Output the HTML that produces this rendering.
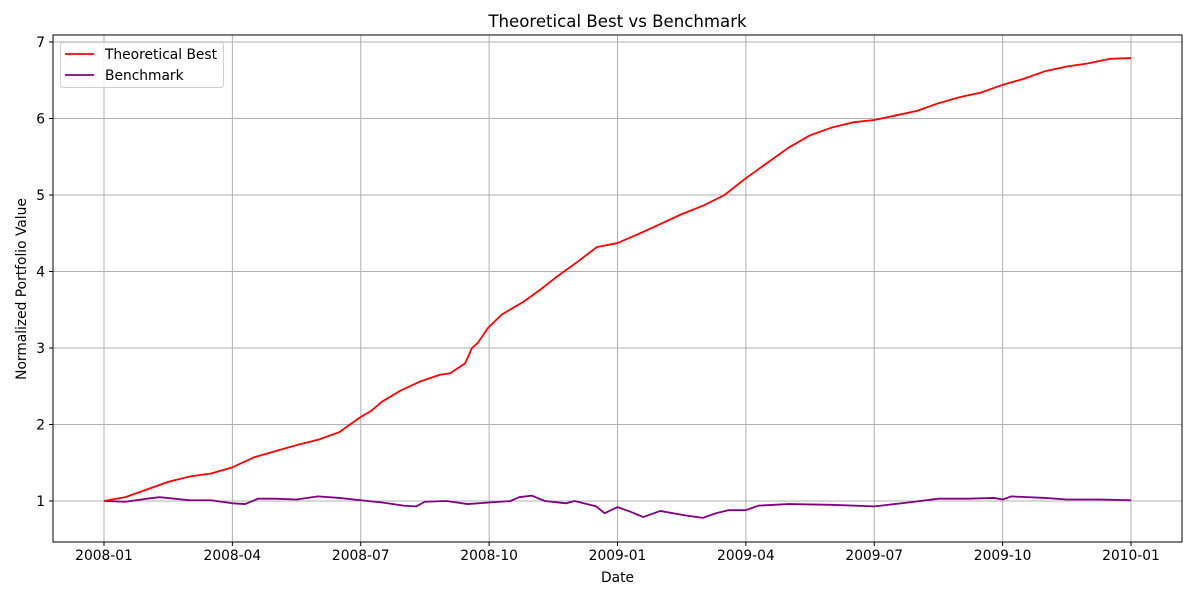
<!DOCTYPE html>
<html><head><meta charset="utf-8"><style>
body{margin:0;background:#fff;font-family:"Liberation Sans","DejaVu Sans",sans-serif;}
svg text{font-family:"DejaVu Sans","Liberation Sans",sans-serif;}
</style></head><body>
<svg id="chart" width="1200" height="600" xmlns="http://www.w3.org/2000/svg"></svg>
<script>
const xTickLabels=["2008-01","2008-04","2008-07","2008-10","2009-01","2009-04","2009-07","2009-10","2010-01"];
const xTickMonths=[0,3,6,9,12,15,18,21,24];
const yTicks=[1,2,3,4,5,6,7];
const bestMonths=[0,0.5,1,1.5,2,2.5,3,3.5,4,4.5,5,5.5,6,6.25,6.5,6.92,7.38,7.85,8.09,8.44,8.6,8.74,8.97,9.3,9.79,10.19,10.6,11.05,11.52,11.99,12.53,13,13.5,14,14.5,15,15.5,16,16.5,17,17.5,18,18.5,19,19.5,20,20.5,21,21.5,22,22.5,23,23.5,24];
const bestValues=[1.0,1.05,1.15,1.25,1.32,1.36,1.44,1.57,1.65,1.73,1.8,1.9,2.1,2.18,2.3,2.44,2.56,2.65,2.67,2.8,3.0,3.07,3.26,3.44,3.6,3.76,3.94,4.12,4.32,4.37,4.5,4.62,4.75,4.86,5.0,5.22,5.42,5.62,5.78,5.88,5.95,5.98,6.04,6.1,6.2,6.28,6.34,6.44,6.52,6.62,6.68,6.72,6.78,6.79];
const benchMonths=[0,0.5,1,1.3,2,2.5,3,3.3,3.6,4,4.5,5,5.5,6,6.5,7,7.3,7.5,8,8.5,9,9.5,9.7,10,10.3,10.8,11,11.5,11.7,12,12.3,12.6,13,13.3,13.6,14,14.3,14.6,15,15.3,16,17,18,18.8,19.5,20.2,20.8,21,21.2,22,22.5,23.3,24];
const benchValues=[1.0,0.99,1.03,1.05,1.01,1.01,0.97,0.96,1.03,1.03,1.02,1.06,1.04,1.01,0.98,0.94,0.93,0.99,1.0,0.96,0.98,1.0,1.05,1.07,1.0,0.97,1.0,0.93,0.84,0.92,0.86,0.79,0.87,0.84,0.81,0.78,0.84,0.88,0.88,0.94,0.96,0.95,0.93,0.98,1.03,1.03,1.04,1.02,1.06,1.04,1.02,1.02,1.01];
const L=53,R=1182,T=35,B=542;
const xs=m=>104+m*(1131-104)/24;
const ys=v=>501-(v-1)*(501-42)/6;
const svg=document.getElementById('chart');
const NS="http://www.w3.org/2000/svg";
function mk(tag,attrs,parent){const e=document.createElementNS(NS,tag);for(const k in attrs)e.setAttribute(k,attrs[k]);(parent||svg).appendChild(e);return e;}
xTickMonths.forEach((m,i)=>{
  const g=mk('line',{x1:xs(m),x2:xs(m),y1:T,y2:B,stroke:'#b0b0b0','stroke-width':1});
  
  
  mk('line',{x1:xs(m),x2:xs(m),y1:B,y2:B+4,stroke:'#000'});
  const t=mk('text',{x:xs(m),y:B+18,'font-size':13.8,'text-anchor':'middle'});
  t.textContent=xTickLabels[i];
  
  
});
yTicks.forEach(v=>{
  const g=mk('line',{x1:L,x2:R,y1:ys(v),y2:ys(v),stroke:'#b0b0b0','stroke-width':1});
  
  
  mk('line',{x1:L-4,x2:L,y1:ys(v),y2:ys(v),stroke:'#000'});
  const t=mk('text',{x:L-8,y:ys(v)+5,'font-size':13.8,'text-anchor':'end'});
  t.textContent=v;
  
  
});
function line(ms,vs,color,name){
  const p=mk('polyline',{points:ms.map((m,i)=>xs(m)+','+ys(vs[i])).join(' '),fill:'none',stroke:color,'stroke-width':1.8,'stroke-linejoin':'round'});
  
  
}
line(benchMonths,benchValues,'#800080','benchmark-line');
line(bestMonths,bestValues,'#ff0000','theoretical-best-line');
const frame=mk('rect',{x:L,y:T,width:R-L,height:B-T,fill:'none',stroke:'#000','stroke-width':1});


const title=mk('text',{x:(L+R)/2,y:27,'font-size':16.6,'text-anchor':'middle'});
title.textContent='Theoretical Best vs Benchmark';


const xt=mk('text',{x:(L+R)/2,y:582,'font-size':13.8,'text-anchor':'middle'});
xt.textContent='Date';


const yt=mk('text',{x:0,y:0,'font-size':13.8,'text-anchor':'middle',transform:'translate(26,289) rotate(-90)'});
yt.textContent='Normalized Portfolio Value';


const lg=mk('g',{});


mk('rect',{x:60.5,y:42.5,width:163,height:45,rx:3,fill:'#fff','fill-opacity':0.8,stroke:'#d0d0d0'},lg);
[['Theoretical Best','#ff0000',54],['Benchmark','#800080',75]].forEach(([n,c,y])=>{
  const e=mk('g',{},lg);
  
  
  mk('line',{x1:65,x2:94,y1:y,y2:y,stroke:c,'stroke-width':1.8},e);
  const t=mk('text',{x:105,y:y+5,'font-size':13.8},e);
  t.textContent=n;
});
</script>
</body></html>
